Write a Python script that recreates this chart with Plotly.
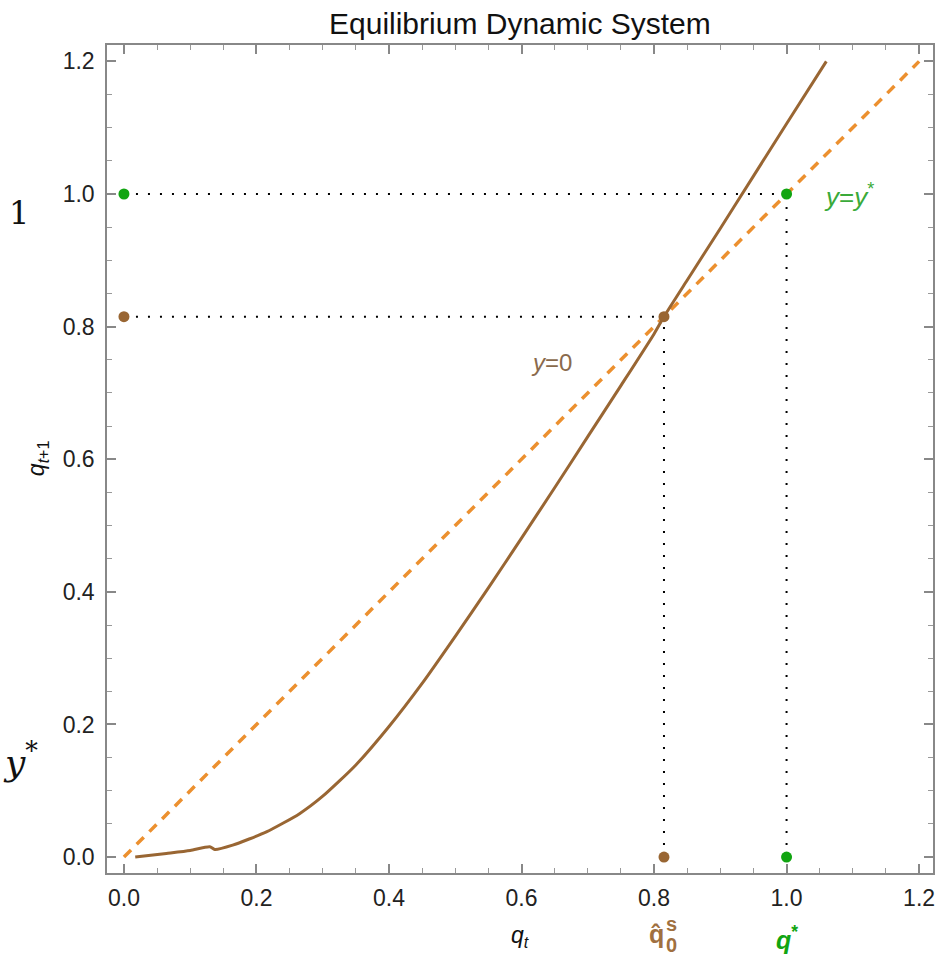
import plotly.graph_objects as go

# ---- data ----
q_t = [0.017, 0.064, 0.100, 0.1295, 0.137, 0.164, 0.215, 0.265, 0.30, 0.35, 0.40,
       0.45, 0.50, 0.55, 0.60, 0.65, 0.70, 0.75, 0.80, 0.815, 0.85, 0.90, 0.95,
       1.00, 1.06]
q_next = [0.0, 0.0055, 0.010, 0.0156, 0.0115, 0.018, 0.038, 0.0655, 0.0918, 0.139,
          0.197, 0.262, 0.333, 0.406, 0.481, 0.557, 0.634, 0.711, 0.789, 0.815,
          0.870, 0.948, 1.027, 1.106, 1.200]
diag = [0.0, 1.2]
q_hat = 0.815
q_star = 1.0
tick_vals = [0.0, 0.2, 0.4, 0.6, 0.8, 1.0, 1.2]
tick_text = ["0.0", "0.2", "0.4", "0.6", "0.8", "1.0", "1.2"]

BROWN = "#996633"
ORANGE = "#EC902F"
GREEN = "#11A511"
GREEN_TXT = "#3AAA3A"
BROWN_TXT = "#A07040"

W, H = 937, 955
L, R, T, B = 107, 2, 45, 82
PW, PH = W - L - R, H - T - B


def px(xp):
    return (xp - L) / PW


def py(yp):
    return (H - B - yp) / PH


fig = go.Figure()

# dotted guide lines
dot = dict(color="black", width=2, dash="2px,10px")
fig.add_trace(go.Scatter(x=[0, q_star], y=[q_star, q_star], mode="lines", line=dot))
fig.add_trace(go.Scatter(x=[q_star, q_star], y=[0, q_star], mode="lines", line=dot))
fig.add_trace(go.Scatter(x=[0, q_hat], y=[q_hat, q_hat], mode="lines", line=dot))
fig.add_trace(go.Scatter(x=[q_hat, q_hat], y=[0, q_hat], mode="lines", line=dot))

# 45-degree line
fig.add_trace(go.Scatter(x=diag, y=diag, mode="lines",
                         line=dict(color=ORANGE, width=3.5, dash="10px,8px")))
# equilibrium curve
fig.add_trace(go.Scatter(x=q_t, y=q_next, mode="lines",
                         line=dict(color=BROWN, width=3, shape="spline", smoothing=0.6)))

# points
fig.add_trace(go.Scatter(x=[0, q_star, q_star], y=[q_star, q_star, 0], mode="markers",
                         marker=dict(color=GREEN, size=11)))
fig.add_trace(go.Scatter(x=[0, q_hat, q_hat], y=[q_hat, q_hat, 0], mode="markers",
                         marker=dict(color=BROWN, size=11)))

axis_common = dict(
    showgrid=False, zeroline=False, showline=True, linecolor="#888888", linewidth=1.5,
    mirror="ticks", ticks="inside", ticklen=9, tickwidth=1.5, tickcolor="#888888",
    tickvals=tick_vals, ticktext=tick_text,
    tickfont=dict(family="Liberation Sans, Arial", size=23, color="#222222"),
    minor=dict(ticks="inside", ticklen=5, tickwidth=1, tickcolor="#999999", dtick=0.05,
               tick0=0, showgrid=False),
)

fig.update_layout(
    width=W, height=H,
    margin=dict(l=L, r=R, t=T, b=B),
    paper_bgcolor="white", plot_bgcolor="white",
    showlegend=False,
    xaxis=dict(range=[-0.0256, 1.221], ticklabelstandoff=4, **axis_common),
    yaxis=dict(range=[-0.024, 1.2247], ticklabelstandoff=6, **axis_common),
    font=dict(family="Liberation Sans, Arial"),
)


def note(text, x, y, size, color, xref="paper", **kw):
    d = dict(text=text, x=x, y=y, xref=xref, yref="paper", showarrow=False,
             xanchor="center", yanchor="middle", font=dict(size=size, color=color))
    d.update(kw)
    return d


ann = [
    note("Equilibrium Dynamic System", px(521), py(23), 30, "#111111"),
    note("<i>q</i><sub><i>t</i></sub>", px(522), py(936), 23, "#111111"),
    note("<i>q</i><sub><i>t</i>+1</sub>", px(37), py(458), 23, "#111111", textangle=-90),
    note("<i>y</i>=0", px(553), py(362), 24, "#8A6A4C"),
    note("<i>y</i>=<i>y</i><sup>*</sup>", px(851), py(195), 26, GREEN_TXT),
    note("<b>q̂</b>", q_hat, py(934), 25, BROWN_TXT, xref="x", xshift=-7),
    note("<b>s</b>", q_hat, py(924), 20, BROWN_TXT, xref="x", xshift=8),
    note("<b>0</b>", q_hat, py(945), 20, BROWN_TXT, xref="x", xshift=8),
    note("<b><i>q</i></b><sup><b>*</b></sup>", q_star, py(938), 25, GREEN, xref="x", xshift=0),
    # fragments of surrounding text at the left edge
    dict(text="1", x=px(19), y=py(213), xref="paper", yref="paper", showarrow=False,
         xanchor="center", yanchor="middle",
         font=dict(family="DejaVu Serif", size=32, color="#111111")),
    dict(text="<i>y</i><sup>*</sup>", x=px(20), y=py(760), xref="paper", yref="paper",
         showarrow=False, xanchor="center", yanchor="middle",
         font=dict(family="DejaVu Serif", size=36, color="#111111")),
]
fig.update_layout(annotations=ann)

fig.write_html("out.html", include_plotlyjs=True, config={"displayModeBar": False},
               post_script="document.body.style.margin='0';")
